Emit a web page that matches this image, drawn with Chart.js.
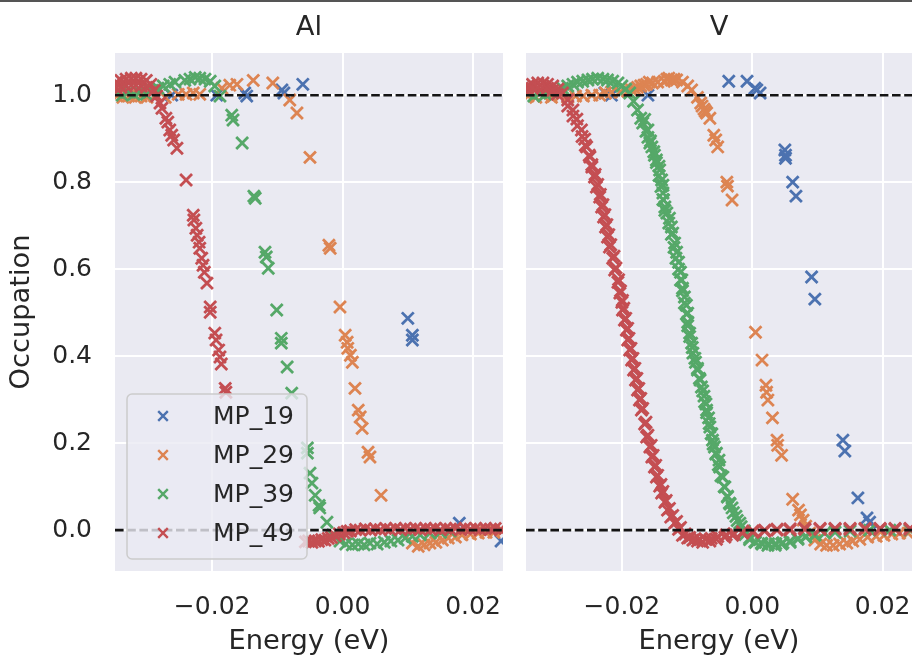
<!DOCTYPE html>
<html><head><meta charset="utf-8">
<script src="https://cdn.jsdelivr.net/npm/chart.js@4.4.1/dist/chart.umd.min.js"></script>
<style>
html,body{margin:0;padding:0;background:#fff;overflow:hidden;width:912px;height:658px;}
canvas{position:absolute;top:0;}
#cAl{left:0;}
#cV{left:515px;}
#topline{position:absolute;left:0;top:0;width:912px;height:2px;background:#555;}
</style></head><body>
<canvas id="cAl" width="515" height="658"></canvas>
<canvas id="cV" width="397" height="658"></canvas>
<div id="topline"></div>
<script>
const panelTitles = ['Al', 'V'];
const seriesNames = ['MP_19', 'MP_29', 'MP_39', 'MP_49'];
const xTickValues = [-0.02, 0.00, 0.02];
const yTickValues = [0.0, 0.2, 0.4, 0.6, 0.8, 1.0];
const referenceLevels = [0, 1];
const xRangeAl = [-0.0349, 0.0246];
const xRangeV = [-0.0347, 0.0245];
const yRange = [-0.094, 1.097];
const xLabel = 'Energy (eV)';
const yLabel = 'Occupation';

// ---- Al panel ----
const al_MP19 = [[-0.0262,1.000],[-0.0193,1.000],[-0.0150,1.005],[-0.0147,0.998],[-0.0093,1.012],[-0.0090,1.005],[-0.0061,1.025],[0.0100,0.487],[0.0107,0.448],[0.0107,0.437],[0.0179,0.016],[0.0243,-0.025]];
const al_MP29 = [[-0.0346,0.998],[-0.0337,0.995],[-0.0328,0.998],[-0.0318,0.995],[-0.0309,0.998],[-0.0300,0.995],[-0.0288,0.998],[-0.0272,0.995],[-0.0252,1.002],[-0.0240,1.002],[-0.0229,1.005],[-0.0219,1.002],[-0.0185,1.016],[-0.0173,1.023],[-0.0162,1.025],[-0.0137,1.034],[-0.0107,1.028],[-0.0081,0.989],[-0.0070,0.959],[-0.0050,0.857],[-0.0021,0.655],[-0.0019,0.648],[-0.0004,0.513],[0.0004,0.448],[0.0007,0.432],[0.0008,0.418],[0.0012,0.402],[0.0015,0.386],[0.0019,0.326],[0.0024,0.276],[0.0027,0.260],[0.0030,0.234],[0.0039,0.179],[0.0042,0.168],[0.0059,0.080],[0.0107,-0.030],[0.0116,-0.037],[0.0125,-0.034],[0.0134,-0.030],[0.0143,-0.028],[0.0153,-0.023],[0.0162,-0.018],[0.0173,-0.016],[0.0183,-0.011],[0.0196,-0.009],[0.0208,-0.007],[0.0220,-0.005],[0.0232,-0.005],[0.0245,-0.002]];
const al_MP39 = [[-0.0346,1.007],[-0.0338,1.000],[-0.0329,1.007],[-0.0320,1.002],[-0.0311,1.007],[-0.0301,1.002],[-0.0292,1.011],[-0.0283,1.016],[-0.0275,1.021],[-0.0265,1.025],[-0.0257,1.030],[-0.0242,1.034],[-0.0234,1.037],[-0.0226,1.041],[-0.0219,1.039],[-0.0211,1.037],[-0.0203,1.032],[-0.0196,1.021],[-0.0188,0.998],[-0.0170,0.954],[-0.0168,0.943],[-0.0154,0.890],[-0.0136,0.768],[-0.0134,0.763],[-0.0119,0.639],[-0.0117,0.628],[-0.0114,0.602],[-0.0101,0.506],[-0.0094,0.441],[-0.0094,0.430],[-0.0085,0.375],[-0.0078,0.315],[-0.0054,0.189],[-0.0054,0.177],[-0.0050,0.131],[-0.0047,0.108],[-0.0042,0.080],[-0.0036,0.057],[-0.0035,0.051],[-0.0024,0.018],[-0.0015,-0.011],[-0.0004,-0.025],[0.0005,-0.032],[0.0015,-0.034],[0.0024,-0.032],[0.0033,-0.034],[0.0042,-0.030],[0.0053,-0.032],[0.0064,-0.028],[0.0074,-0.025],[0.0085,-0.023],[0.0096,-0.018],[0.0107,-0.014],[0.0119,-0.011],[0.0134,-0.007],[0.0150,-0.005],[0.0165,-0.002]];
const al_MP49 = [[-0.0347,1.030],[-0.0347,1.016],[-0.0340,1.034],[-0.0340,1.018],[-0.0332,1.037],[-0.0332,1.021],[-0.0324,1.039],[-0.0324,1.023],[-0.0317,1.039],[-0.0317,1.023],[-0.0309,1.037],[-0.0309,1.021],[-0.0301,1.034],[-0.0301,1.018],[-0.0294,1.025],[-0.0289,1.011],[-0.0285,0.998],[-0.0280,0.982],[-0.0277,0.970],[-0.0271,0.947],[-0.0268,0.938],[-0.0265,0.920],[-0.0262,0.908],[-0.0259,0.897],[-0.0254,0.878],[-0.0240,0.805],[-0.0229,0.724],[-0.0228,0.713],[-0.0225,0.694],[-0.0223,0.678],[-0.0220,0.662],[-0.0219,0.648],[-0.0216,0.625],[-0.0214,0.609],[-0.0212,0.593],[-0.0208,0.568],[-0.0203,0.513],[-0.0203,0.501],[-0.0196,0.453],[-0.0194,0.437],[-0.0190,0.414],[-0.0188,0.398],[-0.0186,0.382],[-0.0180,0.326],[-0.0179,0.317],[-0.0057,-0.027],[-0.0052,-0.025],[-0.0047,-0.028],[-0.0042,-0.025],[-0.0037,-0.026],[-0.0032,-0.022],[-0.0027,-0.023],[-0.0022,-0.019],[-0.0017,-0.017],[-0.0011,-0.013],[-0.0005,-0.009],[0.0002,-0.006],[0.0007,-0.003],[0.0012,-0.002],[0.0020,0.001],[0.0027,0.000],[0.0035,0.003],[0.0043,0.000],[0.0050,0.003],[0.0058,0.001],[0.0066,0.004],[0.0073,0.001],[0.0081,0.004],[0.0089,0.001],[0.0096,0.004],[0.0104,0.002],[0.0112,0.004],[0.0119,0.001],[0.0127,0.004],[0.0135,0.002],[0.0142,0.004],[0.0150,0.001],[0.0158,0.004],[0.0165,0.002],[0.0173,0.004],[0.0181,0.001],[0.0188,0.004],[0.0196,0.002],[0.0204,0.004],[0.0211,0.001],[0.0219,0.004],[0.0227,0.002],[0.0234,0.004],[0.0242,0.001]];

// ---- V panel ----
const v_MP19 = [[-0.0226,1.005],[-0.0216,1.000],[-0.0160,1.000],[-0.0036,1.032],[-0.0008,1.032],[0.0004,1.016],[0.0007,1.012],[0.0012,1.005],[0.0050,0.874],[0.0051,0.862],[0.0051,0.855],[0.0062,0.800],[0.0067,0.768],[0.0091,0.582],[0.0096,0.531],[0.0139,0.207],[0.0142,0.182],[0.0162,0.074],[0.0176,0.028],[0.0180,0.018],[0.0196,0.002]];
const v_MP29 = [[-0.0344,0.998],[-0.0332,0.995],[-0.0320,0.998],[-0.0308,0.995],[-0.0295,0.998],[-0.0283,0.995],[-0.0271,0.998],[-0.0259,0.998],[-0.0246,1.000],[-0.0234,1.000],[-0.0225,1.005],[-0.0216,1.007],[-0.0203,1.007],[-0.0191,1.009],[-0.0185,1.012],[-0.0180,1.014],[-0.0176,1.018],[-0.0171,1.021],[-0.0166,1.023],[-0.0162,1.025],[-0.0158,1.030],[-0.0153,1.028],[-0.0145,1.030],[-0.0135,1.032],[-0.0131,1.037],[-0.0128,1.039],[-0.0124,1.035],[-0.0120,1.037],[-0.0116,1.035],[-0.0107,1.030],[-0.0099,1.021],[-0.0093,1.012],[-0.0084,0.995],[-0.0079,0.982],[-0.0077,0.975],[-0.0074,0.968],[-0.0072,0.963],[-0.0070,0.959],[-0.0065,0.947],[-0.0059,0.908],[-0.0056,0.897],[-0.0053,0.881],[-0.0039,0.800],[-0.0038,0.791],[-0.0031,0.759],[0.0005,0.455],[0.0015,0.391],[0.0021,0.333],[0.0022,0.317],[0.0024,0.299],[0.0031,0.258],[0.0038,0.207],[0.0039,0.195],[0.0045,0.172],[0.0062,0.071],[0.0071,0.046],[0.0074,0.035],[0.0078,0.023],[0.0082,0.009],[0.0088,-0.007],[0.0096,-0.023],[0.0105,-0.032],[0.0114,-0.035],[0.0124,-0.035],[0.0134,-0.032],[0.0145,-0.030],[0.0154,-0.025],[0.0165,-0.021],[0.0177,-0.016],[0.0190,-0.014],[0.0202,-0.012],[0.0214,-0.009],[0.0226,-0.007],[0.0239,-0.007]];
const v_MP39 = [[-0.0344,1.005],[-0.0335,0.998],[-0.0326,1.005],[-0.0317,1.002],[-0.0308,1.007],[-0.0298,1.012],[-0.0291,1.016],[-0.0283,1.021],[-0.0275,1.025],[-0.0268,1.030],[-0.0260,1.032],[-0.0252,1.035],[-0.0245,1.037],[-0.0237,1.039],[-0.0229,1.037],[-0.0222,1.035],[-0.0214,1.032],[-0.0206,1.028],[-0.0200,1.021],[-0.0194,1.014],[-0.0188,1.005],[-0.0182,0.986],[-0.0176,0.966],[-0.0171,0.947],[-0.0168,0.936],[-0.0163,0.917],[-0.0160,0.903],[-0.0157,0.890],[-0.0154,0.881],[-0.0150,0.862],[-0.0147,0.851],[-0.0143,0.837],[-0.0142,0.828],[-0.0139,0.805],[-0.0137,0.793],[-0.0137,0.775],[-0.0136,0.759],[-0.0134,0.743],[-0.0131,0.729],[-0.0127,0.717],[-0.0124,0.697],[-0.0122,0.683],[-0.0119,0.660],[-0.0116,0.639],[-0.0113,0.616],[-0.0110,0.593],[-0.0108,0.575],[-0.0107,0.556],[-0.0104,0.536],[-0.0101,0.517],[-0.0099,0.499],[-0.0099,0.478],[-0.0096,0.453],[-0.0093,0.430],[-0.0091,0.407],[-0.0087,0.386],[-0.0084,0.368],[-0.0081,0.349],[-0.0078,0.329],[-0.0074,0.308],[-0.0071,0.290],[-0.0070,0.276],[-0.0067,0.258],[-0.0065,0.237],[-0.0062,0.221],[-0.0061,0.207],[-0.0058,0.191],[-0.0055,0.177],[-0.0051,0.161],[-0.0050,0.145],[-0.0045,0.122],[-0.0042,0.099],[-0.0038,0.076],[-0.0035,0.062],[-0.0031,0.051],[-0.0025,0.032],[-0.0019,0.016],[-0.0012,-0.002],[-0.0004,-0.018],[0.0005,-0.028],[0.0015,-0.032],[0.0024,-0.035],[0.0035,-0.035],[0.0045,-0.032],[0.0058,-0.028],[0.0070,-0.021],[0.0082,-0.016],[0.0096,-0.012],[0.0111,-0.007],[0.0127,-0.005],[0.0150,-0.002],[0.0180,0.000],[0.0211,0.000],[0.0242,0.000],
 [-0.0165,0.944],[-0.0160,0.920],[-0.0156,0.895],[-0.0151,0.870],[-0.0147,0.845],[-0.0143,0.815],[-0.0140,0.790],[-0.0137,0.760],[-0.0134,0.735],[-0.0128,0.706],[-0.0124,0.680],[-0.0120,0.650],[-0.0117,0.625],[-0.0113,0.600],[-0.0110,0.575],[-0.0107,0.550],[-0.0104,0.522],[-0.0101,0.497],[-0.0099,0.470],[-0.0096,0.445],[-0.0092,0.420],[-0.0088,0.395],[-0.0084,0.372],[-0.0080,0.345],[-0.0076,0.320],[-0.0073,0.295],[-0.0070,0.270],[-0.0066,0.245],[-0.0063,0.222],[-0.0060,0.198],[-0.0056,0.175],[-0.0052,0.150],[-0.0048,0.125],[-0.0043,0.100],[-0.0038,0.078],[-0.0034,0.060],[-0.0029,0.040],[-0.0023,0.022],[-0.0017,0.008],[-0.0011,-0.010],[-0.0004,-0.022],[0.0004,-0.027],[0.0014,-0.030],[0.0025,-0.031],[0.0036,-0.031],[0.0047,-0.029],[0.0058,-0.025],[0.0070,-0.019],[0.0082,-0.014],[0.0096,-0.010]];
const v_MP49 = [[-0.0344,1.021],[-0.0337,1.025],[-0.0329,1.028],[-0.0321,1.028],[-0.0314,1.025],[-0.0306,1.021],[-0.0298,1.014],[-0.0291,1.005],[-0.0283,0.989],[-0.0275,0.966],[-0.0269,0.945],[-0.0262,0.920],[-0.0257,0.899],[-0.0254,0.881],[-0.0249,0.858],[-0.0246,0.835],[-0.0242,0.812],[-0.0239,0.789],[-0.0234,0.766],[-0.0231,0.743],[-0.0228,0.720],[-0.0225,0.697],[-0.0222,0.674],[-0.0219,0.651],[-0.0214,0.625],[-0.0211,0.598],[-0.0206,0.570],[-0.0203,0.545],[-0.0200,0.524],[-0.0199,0.506],[-0.0196,0.483],[-0.0193,0.460],[-0.0191,0.437],[-0.0188,0.414],[-0.0185,0.391],[-0.0182,0.368],[-0.0179,0.345],[-0.0176,0.322],[-0.0173,0.299],[-0.0170,0.276],[-0.0165,0.244],[-0.0162,0.214],[-0.0157,0.191],[-0.0154,0.168],[-0.0150,0.145],[-0.0147,0.122],[-0.0142,0.101],[-0.0139,0.085],[-0.0134,0.064],[-0.0130,0.046],[-0.0125,0.030],[-0.0119,0.016],[-0.0113,0.002],[-0.0107,-0.012],[-0.0099,-0.018],[-0.0091,-0.023],[-0.0084,-0.025],[-0.0076,-0.028],[-0.0065,-0.025],[-0.0055,-0.021],[-0.0042,-0.016],[-0.0030,-0.012],[-0.0015,-0.007],[0.0001,-0.005],[0.0019,-0.002],[0.0038,0.000],[0.0058,0.000],[0.0081,0.002],[0.0104,0.002],[0.0127,0.002],[0.0150,0.002],[0.0173,0.002],[0.0196,0.002],[0.0219,0.002],[0.0242,0.002],
 [-0.0344,1.012],[-0.0337,1.016],[-0.0329,1.018],[-0.0321,1.018],[-0.0314,1.016],[-0.0306,1.011],[-0.0299,1.002],[-0.0283,0.975],[-0.0275,0.952],[-0.0268,0.930],[-0.0261,0.905],[-0.0256,0.885],[-0.0250,0.862],[-0.0246,0.840],[-0.0241,0.818],[-0.0237,0.795],[-0.0233,0.772],[-0.0229,0.748],[-0.0226,0.725],[-0.0223,0.702],[-0.0220,0.679],[-0.0217,0.656],[-0.0212,0.630],[-0.0209,0.603],[-0.0205,0.576],[-0.0202,0.550],[-0.0199,0.528],[-0.0197,0.510],[-0.0194,0.487],[-0.0191,0.464],[-0.0189,0.441],[-0.0186,0.418],[-0.0183,0.395],[-0.0180,0.372],[-0.0177,0.349],[-0.0174,0.326],[-0.0171,0.303],[-0.0168,0.280],[-0.0163,0.248],[-0.0160,0.218],[-0.0155,0.195],[-0.0152,0.172],[-0.0148,0.149],[-0.0145,0.126],[-0.0140,0.105],[-0.0137,0.089],[-0.0132,0.068],[-0.0127,0.050],[-0.0122,0.034],[-0.0116,0.020],[-0.0110,0.006],[-0.0103,-0.009],[-0.0096,-0.017],[-0.0088,-0.020],[-0.0080,-0.022],[-0.0072,-0.021],[-0.0063,-0.019],[-0.0053,-0.015],[-0.0040,-0.011],[-0.0028,-0.008],[-0.0015,-0.004],[0.0001,-0.002],[0.0019,0.000],[0.0038,0.002],[0.0058,0.003],[0.0080,0.004],[0.0104,0.004],[0.0127,0.004],[0.0150,0.004],[0.0173,0.004],[0.0196,0.004],[0.0219,0.004],[0.0242,0.004]];

const seriesColors = ['#4C72B0', '#DD8452', '#55A868', '#C44E52'];
const FONT = '"DejaVu Sans", "Liberation Sans", sans-serif';
const TEXT = '#262626';

function fmtX(v) { return (v < 0 ? '\u2212' : '') + Math.abs(v).toFixed(2); }

function mkDatasets(lists) {
  return lists.map((pts, i) => ({
    label: seriesNames[i],
    data: pts.map(p => ({x: p[0], y: p[1]})),
    order: lists.length - i,
    pointStyle: 'crossRot',
    pointRadius: 8.4,
    pointHoverRadius: 8.4,
    pointBorderWidth: 2.8,
    borderColor: seriesColors[i],
    backgroundColor: seriesColors[i],
    showLine: false
  }));
}

const refLinePlugin = {
  id: 'refLines',
  afterDatasetsDraw(chart) {
    const {ctx, chartArea: a} = chart;
    const y = chart.scales.y;
    ctx.save();
    ctx.beginPath(); ctx.rect(a.left, a.top, a.right - a.left, a.bottom - a.top); ctx.clip();
    ctx.strokeStyle = '#141414'; ctx.lineWidth = 2.6; ctx.setLineDash([8.6, 3.6]);
    referenceLevels.forEach(v => {
      const py = y.getPixelForValue(v);
      ctx.beginPath(); ctx.moveTo(a.left, py); ctx.lineTo(a.right, py); ctx.stroke();
    });
    ctx.restore();
  }
};

const boxLegendPlugin = {
  id: 'boxLegend',
  afterDraw(chart) {
    const {ctx, chartArea: a} = chart;
    const w = 180, h = 165;
    const x0 = a.left + 12, y0 = a.bottom - 12 - h;
    ctx.save();
    ctx.beginPath();
    ctx.roundRect(x0, y0, w, h, 5);
    ctx.fillStyle = 'rgba(234,234,242,0.8)';
    ctx.fill();
    ctx.strokeStyle = '#cccccc'; ctx.lineWidth = 1.5;
    ctx.stroke();
    ctx.font = '25px ' + FONT;
    ctx.textBaseline = 'middle'; ctx.textAlign = 'left';
    seriesNames.forEach((name, i) => {
      const cy = y0 + 22 + i * 39;
      const cx = x0 + 36;
      ctx.strokeStyle = seriesColors[i]; ctx.lineWidth = 2.4;
      ctx.beginPath();
      ctx.moveTo(cx - 4.8, cy - 4.8); ctx.lineTo(cx + 4.8, cy + 4.8);
      ctx.moveTo(cx + 4.8, cy - 4.8); ctx.lineTo(cx - 4.8, cy + 4.8);
      ctx.stroke();
      ctx.fillStyle = TEXT;
      ctx.fillText(name, x0 + 86, cy + 1);
    });
    ctx.restore();
  }
};

function mkOptions(isLeft, xr, title) {
  return {
    responsive: false,
    animation: false,
    events: [],
    layout: {autoPadding: false, padding: {left: 0, right: isLeft ? 12 : 0, top: 0, bottom: 0}},
    plugins: {
      legend: {display: false},
      tooltip: {enabled: false},
      title: {display: true, text: title, fullSize: false, color: TEXT,
        font: {family: FONT, size: 27.3, weight: 'normal'},
        padding: {top: 12, bottom: 8.24}}
    },
    scales: {
      x: {
        type: 'linear', min: xr[0], max: xr[1],
        afterBuildTicks: s => { s.ticks = xTickValues.map(v => ({value: v})); },
        afterFit: s => { s.height = 87; s.paddingLeft = 0; s.paddingRight = 0; },
        grid: {color: '#ffffff', lineWidth: 2, drawTicks: false},
        border: {display: false},
        ticks: {color: TEXT, font: {family: FONT, size: 25}, padding: 21, maxRotation: 0, autoSkip: false, callback: v => fmtX(v)},
        title: {display: true, text: xLabel, color: TEXT, font: {family: FONT, size: 27.3}, padding: {top: 0, bottom: 0}}
      },
      y: {
        type: 'linear', min: yRange[0], max: yRange[1],
        afterBuildTicks: s => { s.ticks = yTickValues.map(v => ({value: v})); },
        afterFit: s => { s.width = isLeft ? 115 : 11; s.paddingTop = 0; s.paddingBottom = 0; },
        grid: {color: '#ffffff', lineWidth: 2, drawTicks: false},
        border: {display: false},
        ticks: {display: isLeft, color: TEXT, font: {family: FONT, size: 25}, padding: 23, autoSkip: false, callback: v => v.toFixed(1)},
        title: {display: isLeft, text: yLabel, color: TEXT, font: {family: FONT, size: 27.3}, padding: {top: 6, bottom: 0}}
      }
    }
  };
}

const bgPlugin = {
  id: 'axesBg',
  beforeDraw(chart) {
    const {ctx, chartArea: a} = chart;
    ctx.save();
    ctx.fillStyle = '#EAEAF2';
    ctx.fillRect(a.left, a.top, a.right - a.left, a.bottom - a.top);
    ctx.restore();
  }
};

new Chart(document.getElementById('cAl'), {
  type: 'scatter',
  data: {datasets: mkDatasets([al_MP19, al_MP29, al_MP39, al_MP49])},
  options: mkOptions(true, xRangeAl, panelTitles[0]),
  plugins: [bgPlugin, refLinePlugin, boxLegendPlugin]
});
new Chart(document.getElementById('cV'), {
  type: 'scatter',
  data: {datasets: mkDatasets([v_MP19, v_MP29, v_MP39, v_MP49])},
  options: mkOptions(false, xRangeV, panelTitles[1]),
  plugins: [bgPlugin, refLinePlugin]
});
</script></body></html>
